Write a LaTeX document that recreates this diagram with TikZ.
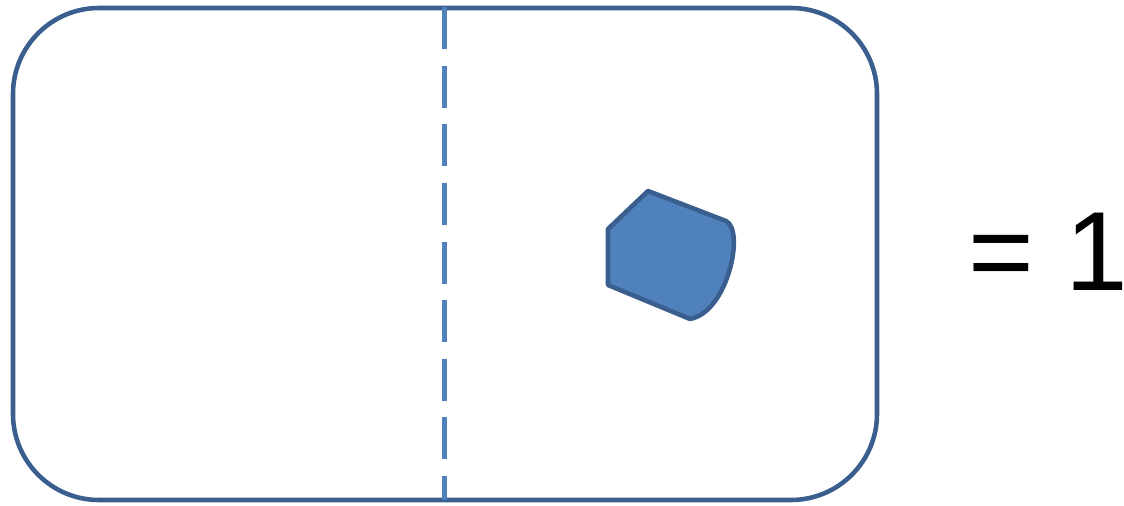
\documentclass[tikz,border=0pt]{standalone}
\usepackage{fontspec}
\setmainfont{Liberation Sans}
\usetikzlibrary{positioning}
\definecolor{edgeblue}{HTML}{3A5F8F}
\definecolor{fillblue}{HTML}{4F81BD}

\begin{document}
\begin{tikzpicture}[
  x=0.01cm, y=-0.01cm,
  frame/.style={draw=edgeblue, line width=1.3pt, rounded corners=0.86cm},
  divider/.style={draw=fillblue, line width=1.35pt, dash pattern=on 0.42cm off 0.166cm},
  piece/.style={draw=edgeblue, fill=fillblue, line width=1.3pt, line join=round},
  result/.style={font=\fontsize{32}{35}\selectfont, inner sep=0pt}
]
  \useasboundingbox (0,0) rectangle (1124,506);
  \draw[frame] (13,8) rectangle (877,500);
  \coordinate (top) at (444.5,7);
  \coordinate (bottom) at (444.5,500);
  \draw[divider] (top) -- (bottom);
  \draw[piece] (608,229) -- (648,191) -- (726,221)
    .. controls (745,230) and (728,312) .. (690,319)
    -- (608,285) -- cycle;
  \node[result, anchor=base west] (eq) at (968,290) {= 1\kern-0.18em};
\end{tikzpicture}
\end{document}
